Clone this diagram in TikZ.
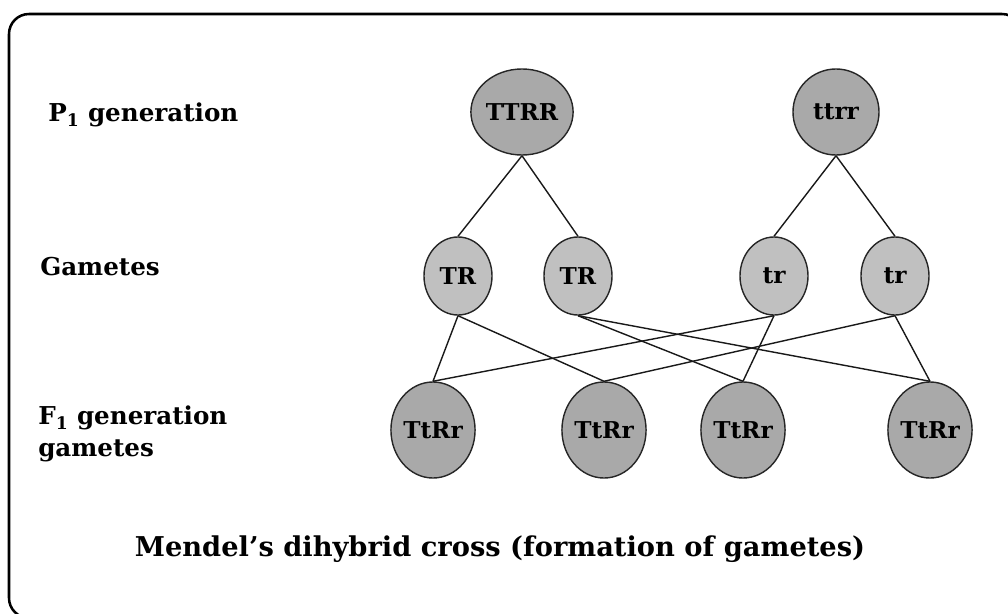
\documentclass[tikz,border=0pt]{standalone}
\usepackage{fontspec}
\setmainfont{DejaVu Serif}
\usetikzlibrary{shapes.geometric}

\definecolor{darkfill}{RGB}{169,169,169}
\definecolor{lightfill}{RGB}{192,192,192}

\begin{document}
\begin{tikzpicture}[x=0.025cm,y=-0.025cm,
	parent/.style={draw=black!85,line width=1pt,ellipse,fill=darkfill,inner sep=0pt,minimum width=2.15cm,minimum height=2.15cm,font=\bfseries\fontsize{16.5}{19}\selectfont},
	gamete/.style={draw=black!85,line width=1pt,ellipse,fill=lightfill,inner sep=0pt,minimum width=1.7cm,minimum height=1.95cm,font=\bfseries\fontsize{16.5}{19}\selectfont},
	child/.style={draw=black!85,line width=1pt,ellipse,fill=darkfill,inner sep=0pt,minimum width=2.1cm,minimum height=2.4cm,font=\bfseries\fontsize{16.5}{19}\selectfont},
	label/.style={anchor=west,align=left,inner sep=0pt,font=\bfseries\fontsize{17.5}{22.8}\selectfont},
	link/.style={line width=1pt,black!90}]
			\useasboundingbox (0,0) rectangle (1008,613);
			\begin{scope}
				\clip (0,0) rectangle (1008,613);
				\draw[line width=1.8pt,rounded corners=0.5cm] (9,14) rectangle (1022,618);
			\end{scope}
			
			\node[label](l1)at(48,115) {P\textsubscript{1} generation};
			\node[label](l2)at(40,267) {Gametes};
			\node[label](l3)at(38,434) {F\textsubscript{1} generation\\gametes};
			\node[font=\bfseries\fontsize{19.4}{22}\selectfont,inner sep=0pt](cap)at(500,549) {Mendel’s dihybrid cross (formation of gametes)};
			
			\node[parent](P1)at(522,112) {TTRR};
			\node[parent](P2)at(836,112) {ttrr};
			
			\node[gamete](G1)at(458,276) {TR};
			\node[gamete](G2)at(578,276) {TR};
			\node[gamete](G3)at(774,276) {tr};
			\node[gamete](G4)at(895,276) {tr};
			
			\node[child](F1)at(433,430) {TtRr};
			\node[child](F2)at(604,430) {TtRr};
			\node[child](F3)at(743,430) {TtRr};
			\node[child](F4)at(930,430) {TtRr};
			
			\draw[link](P1.south) -- (G1.north);
			\draw[link](P1.south) -- (G2.north);
			\draw[link](P2.south) -- (G3.north);
			\draw[link](P2.south) -- (G4.north);
			\draw[link](G1.south) -- (F1.north);
			\draw[link](G1.south) -- (F2.north);
			\draw[link](G2.south) -- (F3.north);
			\draw[link](G2.south) -- (F4.north);
			\draw[link](G3.south) -- (F1.north);
			\draw[link](G3.south) -- (F3.north);
			\draw[link](G4.south) -- (F2.north);
			\draw[link](G4.south) -- (F4.north);
		\end{tikzpicture}
\end{document}
